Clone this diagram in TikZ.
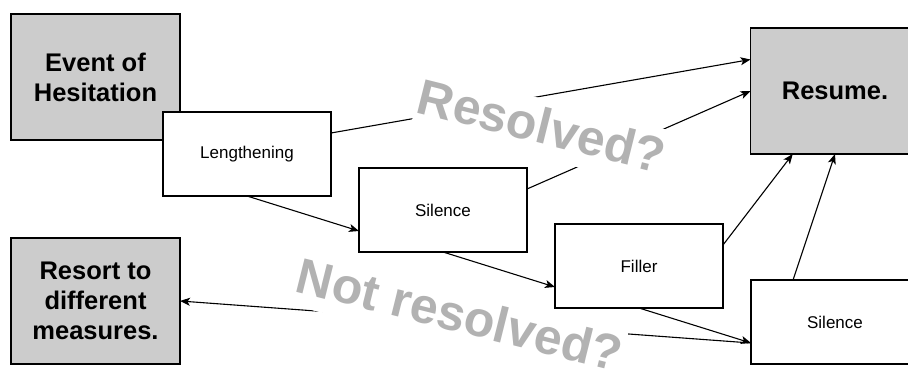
\documentclass[tikz,border=0pt]{standalone}
\usepackage{fontspec}
\setmainfont{Liberation Sans}
\usetikzlibrary{arrows.meta, positioning, calc}

\begin{document}
\begin{tikzpicture}[
  x=1pt, y=-1pt,
  every node/.style={inner sep=0pt, outer sep=0pt},
  state/.style={draw,line width=1.2pt,fill=black!20,align=center,minimum width=169pt,minimum height=126pt,font=\fontsize{25.5}{30}\selectfont\bfseries},
  cue/.style={draw,line width=1.2pt,fill=white,minimum width=168pt,minimum height=84pt,font=\fontsize{17}{20}\selectfont},
  verdict/.style={fill=white,text=black!30,rotate=-14,anchor=base west,inner xsep=1pt,inner ysep=4pt,text height=40pt,text depth=10pt,font=\fontsize{50}{60}\selectfont\bfseries},
  arr/.style={-{Stealth[length=10pt,width=8pt,inset=2.5pt]},line width=1.1pt}
]
\clip (0,0) rectangle (908,372);
\node[state] (event) at (95.5,77) {Event of\\Hesitation};
\node[cue,below right=-28pt and -17pt of event] (len) {Lengthening};
\node[cue,below right=-28pt and 28pt of len] (sil1) {Silence};
\node[cue,below right=-28pt and 28pt of sil1] (filler) {Filler};
\node[cue,below right=-28pt and 28pt of filler] (sil2) {Silence};
\node[state,above=126pt of sil2] (resume) {Resume.};
\node[state,below=98pt of event] (resort) {Resort to\\different\\measures.};
\draw[arr] ($(len.north east)!.25!(len.south east)$) -- ($(resume.north west)!.25!(resume.south west)$);
\draw[arr] ($(sil1.north east)!.25!(sil1.south east)$) -- (resume.west);
\draw[arr] (len.south) -- ($(sil1.north west)!.75!(sil1.south west)$);
\draw[arr] (sil1.south) -- ($(filler.north west)!.75!(filler.south west)$);
\draw[arr] ($(filler.north east)!.25!(filler.south east)$) -- ($(resume.south west)!.25!(resume.south east)$);
\draw[arr] ($(sil2.north west)!.25!(sil2.north east)$) -- (resume.south);
\draw[arr] (filler.south) -- ($(sil2.north west)!.75!(sil2.south west)$);
\draw[arr] ($(sil2.north west)!.75!(sil2.south west)$) -- (resort.east);
\node[verdict] (yes) at (414,112) {Resolved?};
\node[verdict] (no) at (293,291) {Not resolved?};
\end{tikzpicture}
\end{document}
